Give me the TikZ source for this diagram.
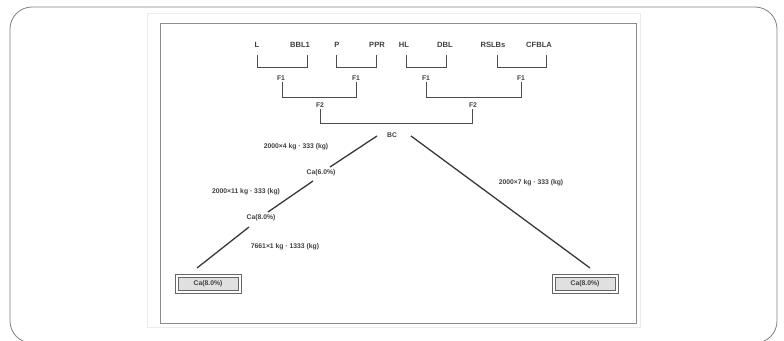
\documentclass[tikz,border=0pt]{standalone}
\usepackage{fontspec}
\setmainfont{Liberation Sans}
\begin{document}
\begin{tikzpicture}[x=1pt,y=-1pt,
  lbl/.style={font=\fontsize{6.8}{8}\selectfont\bfseries, text=black!75, inner sep=1pt},
  top/.style={lbl, font=\fontsize{7.6}{9}\selectfont\bfseries},
  br/.style={draw=black!70, line width=1pt},
  ln/.style={draw=black!78, line width=1.3pt},
  endbox/.style={lbl, draw=black!60, fill=black!12, line width=0.7pt, minimum width=60pt, minimum height=13pt}]
\useasboundingbox (0,0) rectangle (784,340);
% outer rounded frame
\draw[black!50, line width=0.8pt, rounded corners=22pt] (10,7) rectangle (777,343);
% picture frames
\draw[black!8, line width=0.8pt] (147,13) rectangle (640,327);
\draw[black!45, line width=1pt] (160,23) rectangle (636,323);

% top labels
\node[top] (pL)  at (257,45) {L};
\node[top] (pB)  at (300,45) {BBL1};
\node[top] (pP)  at (337,45) {P};
\node[top] (pR)  at (377,45) {PPR};
\node[top] (pH)  at (404,45) {HL};
\node[top] (pD)  at (445,45) {DBL};
\node[top] (pS)  at (493,45) {RSLBs};
\node[top] (pC)  at (539,45) {CFBLA};

% first F1 row
\node[lbl] (f1a) at (281,78) {F1};
\node[lbl] (f1b) at (356,78) {F1};
\node[lbl] (f1c) at (426,78) {F1};
\node[lbl] (f1d) at (521,78) {F1};

% second row
\node[lbl] (f2a) at (320,105) {F2};
\node[lbl] (f2b) at (473,105) {F2};

% center
\node[lbl] (bc) at (392,135) {BC};

% brackets level 1
\draw[br] (257,55) -- (257,67) -- (307,67) -- (307,55);
\draw[br] (336,55) -- (336,67) -- (376,67) -- (376,55);
\draw[br] (406,55) -- (406,67) -- (446,67) -- (446,55);
\draw[br] (497,55) -- (497,67) -- (546,67) -- (546,55);
% brackets level 2
\draw[br] ([xshift=1pt]f1a.south) -- (282,97) -- (356,97) -- (f1b.south);
\draw[br] (f1c.south) -- (426,97) -- (521,97) -- (f1d.south);
% bracket level 3
\draw[br] (f2a.south) -- (320,123) -- (472,123) -- ([xshift=-1pt]f2b.south);

% mid nodes
\node[lbl] (ca1) at (321,173) {Ca(6.0\%)};
\node[lbl] (ca2) at (261,218) {Ca(8.0\%)};
\node[endbox] (boxL) at (208,284) {Ca(8.0\%)};
\node[endbox] (boxR) at (585,284) {Ca(8.0\%)};
\draw[black!60, line width=0.7pt] ([shift={(-2.5,-2.5)}]boxL.north west) rectangle ([shift={(2.5,2.5)}]boxL.south east);
\draw[black!60, line width=0.7pt] ([shift={(-2.5,-2.5)}]boxR.north west) rectangle ([shift={(2.5,2.5)}]boxR.south east);

% coordinates for line ends
\coordinate (s1a) at (377,136);
\coordinate (s1b) at (330,167);
\coordinate (s2a) at (313,181);
\coordinate (s2b) at (268,212);
\coordinate (s3a) at (249,227);
\coordinate (s3b) at (197,268);
\coordinate (r1a) at (411,136);
\coordinate (r1b) at (590,268);

\draw[ln] (s1a) -- (s1b);
\draw[ln] (s2a) -- (s2b);
\draw[ln] (s3a) -- (s3b);
\draw[ln] (r1a) -- (r1b);

% line labels
\node[lbl] (t1) at (296,147) {2000×4 kg · 333 (kg)};
\node[lbl] (t2) at (246,192) {2000×11 kg · 333 (kg)};
\node[lbl] (t3) at (285,247) {7661×1 kg · 1333 (kg)};
\node[lbl] (t4) at (531,183) {2000×7 kg · 333 (kg)};
\end{tikzpicture}
\end{document}
